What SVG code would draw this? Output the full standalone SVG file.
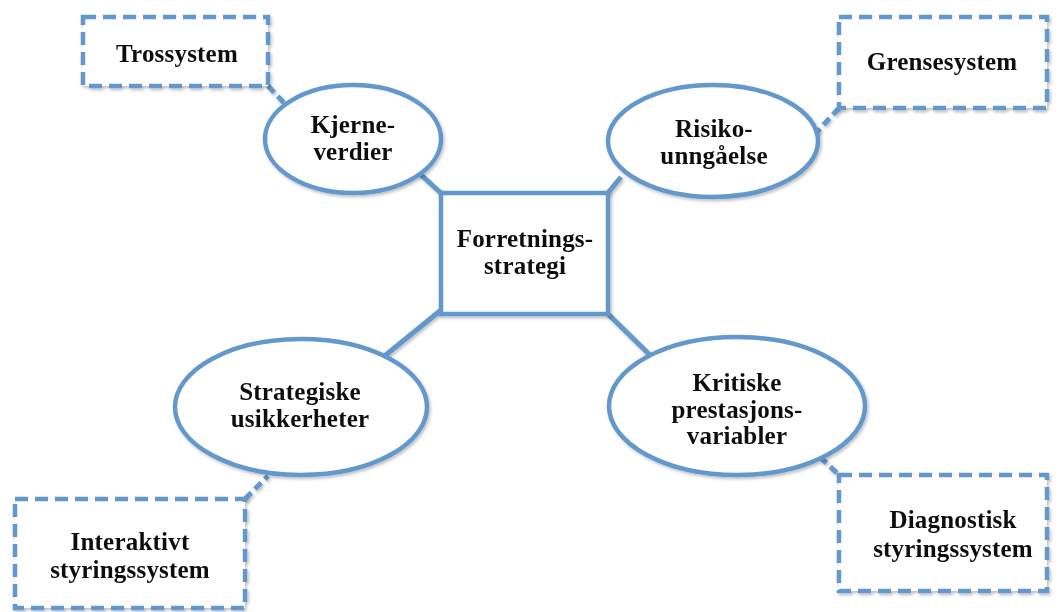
<svg xmlns="http://www.w3.org/2000/svg" width="1059" height="612" viewBox="0 0 1059 612">
<defs>
<filter id="sh" x="-10%" y="-10%" width="130%" height="130%">
<feDropShadow dx="1.5" dy="2" stdDeviation="1.5" flood-color="#000" flood-opacity="0.25"/>
</filter>
</defs>
<style>
.solid{fill:#fff;stroke:#6398CC;stroke-width:4.5}
.dash{fill:#fff;stroke:#6398CC;stroke-width:4.5;stroke-dasharray:13 7}
.con{stroke:#6398CC;stroke-width:5;fill:none}
.dcon{stroke:#6398CC;stroke-width:5;fill:none;stroke-dasharray:9 5}
text{font-family:"Liberation Serif","Times New Roman",serif;font-weight:bold;font-size:25px;letter-spacing:0.2px;fill:#111;text-anchor:middle}
</style>
<rect width="1059" height="612" fill="#fff"/>
<g id="connectors" filter="url(#sh)">
<line class="con" x1="442" y1="194" x2="419" y2="173"/>
<line class="con" x1="607" y1="194" x2="621" y2="177"/>
<line class="con" x1="441" y1="310" x2="382" y2="358"/>
<line class="con" x1="607" y1="313" x2="654" y2="359"/>
<line class="dcon" x1="268" y1="86" x2="288" y2="107"/>
<line class="dcon" x1="839" y1="108" x2="816" y2="133"/>
<line class="dcon" x1="245" y1="499" x2="268" y2="476"/>
<line class="dcon" x1="820" y1="457" x2="839" y2="475"/>
</g>
<g id="forretningsstrategi" filter="url(#sh)">
<rect class="solid" x="441" y="193" width="167" height="121"/>
<text x="525" y="247">Forretnings-</text>
<text x="525" y="274">strategi</text>
</g>
<g id="kjerneverdier" filter="url(#sh)">
<ellipse class="solid" cx="353" cy="139" rx="88" ry="54"/>
<text x="353" y="133">Kjerne-</text>
<text x="353" y="160">verdier</text>
</g>
<g id="risikounngaelse" filter="url(#sh)">
<ellipse class="solid" cx="713" cy="141" rx="105" ry="56"/>
<text x="714" y="137">Risiko-</text>
<text x="714" y="164">unngåelse</text>
</g>
<g id="strategiske" filter="url(#sh)">
<ellipse class="solid" cx="301" cy="407" rx="126" ry="68"/>
<text x="300" y="400">Strategiske</text>
<text x="300" y="427">usikkerheter</text>
</g>
<g id="kritiske" filter="url(#sh)">
<ellipse class="solid" cx="737" cy="406" rx="128" ry="69"/>
<text x="737" y="391">Kritiske</text>
<text x="737" y="418">prestasjons-</text>
<text x="737" y="444">variabler</text>
</g>
<g id="trossystem" filter="url(#sh)">
<rect class="dash" x="83" y="17" width="185" height="69"/>
<text x="177" y="62">Trossystem</text>
</g>
<g id="grensesystem" filter="url(#sh)">
<rect class="dash" x="839" y="17" width="208" height="91"/>
<text x="942" y="70">Grensesystem</text>
</g>
<g id="interaktivt" filter="url(#sh)">
<rect class="dash" x="15" y="499" width="230" height="109"/>
<text x="130" y="550">Interaktivt</text>
<text x="130" y="578">styringssystem</text>
</g>
<g id="diagnostisk" filter="url(#sh)">
<rect class="dash" x="839" y="475" width="208" height="116"/>
<text x="953" y="528">Diagnostisk</text>
<text x="953" y="557">styringssystem</text>
</g>
</svg>
